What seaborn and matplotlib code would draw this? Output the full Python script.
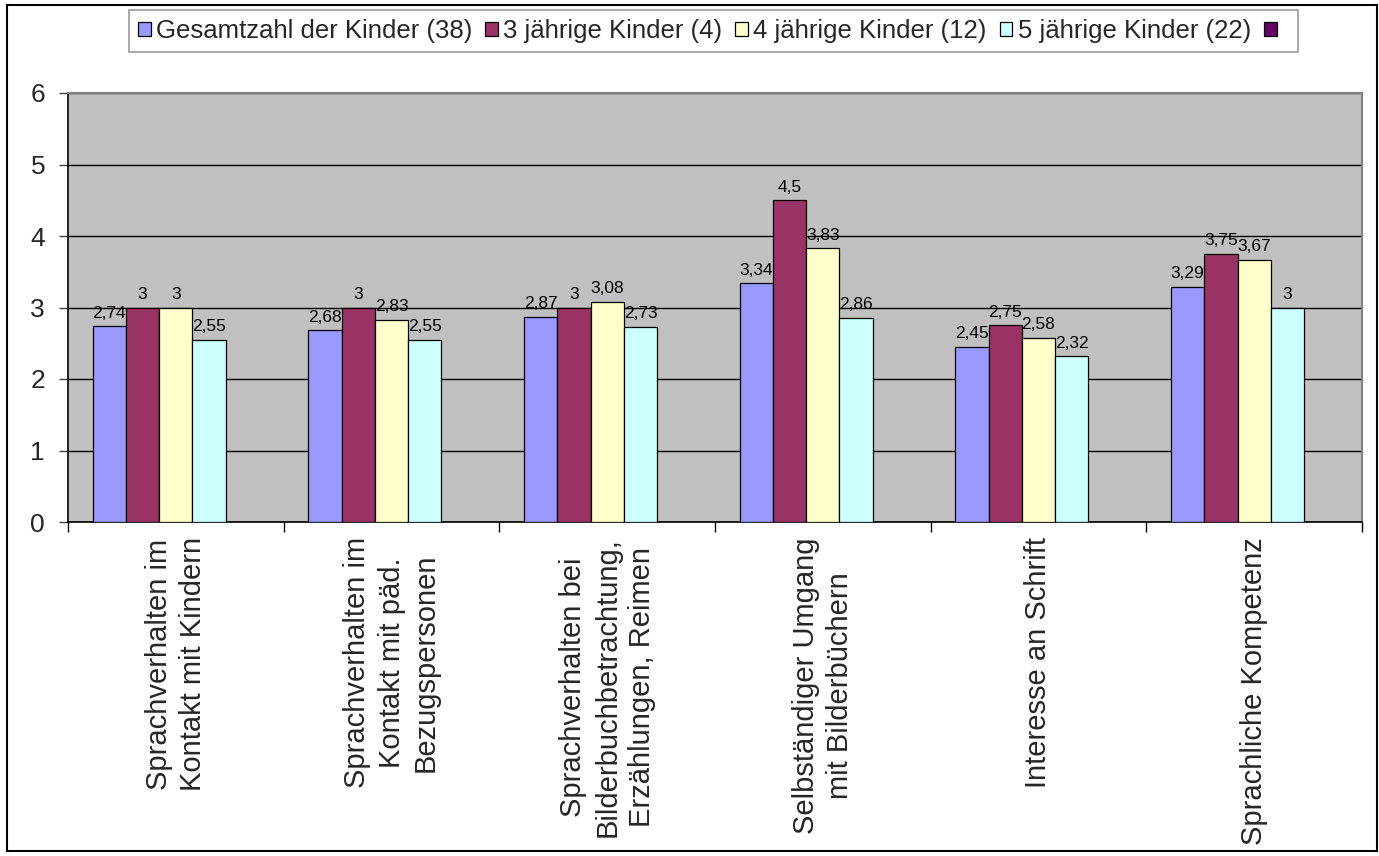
import numpy as np
import pandas as pd
import matplotlib
matplotlib.use('Agg')
import matplotlib.pyplot as plt
from matplotlib.patches import Patch, Rectangle
import seaborn as sns

# ── data ──────────────────────────────────────────────────────────────────
KATEGORIEN = [
    'Sprachverhalten im\nKontakt mit Kindern',
    'Sprachverhalten im\nKontakt mit päd.\nBezugspersonen',
    'Sprachverhalten bei\nBilderbuchbetrachtung,\nErzählungen, Reimen',
    'Selbständiger Umgang\nmit Bilderbüchern',
    'Interesse an Schrift',
    'Sprachliche Kompetenz',
]
GESAMT = [2.74, 2.68, 2.87, 3.34, 2.45, 3.29]
DREI   = [3, 3, 3, 4.5, 2.75, 3.75]
VIER   = [3, 2.83, 3.08, 3.83, 2.58, 3.67]
FUENF  = [2.55, 2.55, 2.73, 2.86, 2.32, 3]

GRUPPEN = ['Gesamtzahl der Kinder (38)', '3 jährige Kinder (4)',
           '4 jährige Kinder (12)', '5 jährige Kinder (22)', ' ']
FARBEN = ['#9999FF', '#993366', '#FFFFCC', '#CCFFFF', '#660066']

W, H = 1379, 856

rows = []
for gruppe, werte in zip(GRUPPEN[:4], [GESAMT, DREI, VIER, FUENF]):
    for kat, v in zip(KATEGORIEN, werte):
        rows.append({'kategorie': kat, 'gruppe': gruppe, 'wert': v})
df = pd.DataFrame(rows)

sns.set_style('white')
plt.rcParams['font.family'] = ['Liberation Sans', 'DejaVu Sans']

fig = plt.figure(figsize=(W / 100, H / 100), dpi=100)
ax = fig.add_axes([68 / W, 1 - 522 / H, (1362 - 68) / W, (522 - 93) / H])
ax.set_facecolor('#C0C0C0')

sns.barplot(
    data=df, x='kategorie', y='wert', hue='gruppe',
    order=KATEGORIEN, hue_order=GRUPPEN,
    palette=dict(zip(GRUPPEN, FARBEN)), saturation=1,
    width=0.772, edgecolor='black', linewidth=0.9,
    legend=False, ax=ax, zorder=3,
)

# data labels with german decimal comma
werte_liste = [GESAMT, DREI, VIER, FUENF]
for cont, werte in zip(ax.containers, werte_liste):
    ax.bar_label(cont, labels=[f'{v:g}'.replace('.', ',') for v in werte],
                 padding=4, fontsize=12.5, color='black')

ax.set_ylim(0, 6)
ax.set_xlim(-0.5, len(KATEGORIEN) - 0.5)
ax.set_yticks(range(7))
ax.yaxis.grid(True, color='black', linewidth=1, zorder=0)
ax.set_axisbelow(True)
ax.tick_params(axis='y', labelsize=19, length=6.5, width=1, direction='out',
               pad=10, left=True, color='#404040')

ax.set_xticks(range(len(KATEGORIEN)))
ax.set_xticklabels(KATEGORIEN, rotation=90, fontsize=21, va='top',
                   ha='center', multialignment='center', linespacing=1.3)
ax.tick_params(axis='x', length=0, pad=11)
ax.set_xticks(np.arange(-0.5, len(KATEGORIEN)), minor=True)
ax.tick_params(axis='x', which='minor', length=7.5, width=1, color='black',
               direction='out', bottom=True)

ax.set_xlabel('')
ax.set_ylabel('')
for s in ['left', 'bottom']:
    ax.spines[s].set_color('black')
    ax.spines[s].set_linewidth(1.2)
for s in ['top', 'right']:
    ax.spines[s].set_color('#808080')
    ax.spines[s].set_linewidth(1.5)

# legend
handles = [Patch(facecolor=c, edgecolor='black', linewidth=0.9) for c in FARBEN]
leg = fig.legend(handles, GRUPPEN, loc='upper center', ncol=5,
                 bbox_to_anchor=(713.5 / W, 1 - 10 / H), fontsize=18.5,
                 frameon=True, fancybox=False, handlelength=0.5,
                 handleheight=0.5, handletextpad=0.2, columnspacing=0.5,
                 borderpad=0.35, borderaxespad=0)
leg.get_frame().set_edgecolor('#808080')
leg.get_frame().set_linewidth(1.2)

# outer border
fig.add_artist(Rectangle((7 / W, 1 - 851 / H), (1377 - 7) / W, (851 - 5) / H,
                         transform=fig.transFigure, fill=False,
                         edgecolor='black', linewidth=1.5))

fig.savefig('out.png', dpi=100, facecolor='white')
